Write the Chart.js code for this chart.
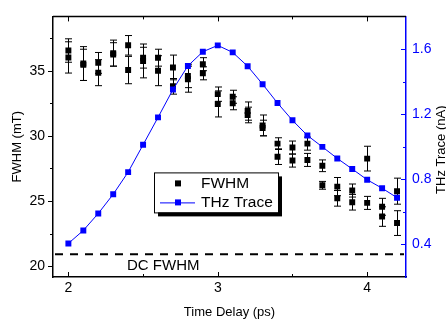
<!DOCTYPE html>
<html>
<head>
<meta charset="utf-8">
<script src="https://cdn.jsdelivr.net/npm/chart.js@4.4.1/dist/chart.umd.min.js"></script>
<style>
  body { margin: 0; background: #fff; }
</style>
</head>
<body>
<canvas id="chart" width="446" height="320"></canvas>
<script>
const times = [2.0, 2.1, 2.2, 2.3, 2.4, 2.5, 2.6, 2.7, 2.8, 2.9, 3.0, 3.1,
               3.2, 3.3, 3.4, 3.5, 3.6, 3.7, 3.8, 3.9, 4.0, 4.1, 4.2];

// two FWHM measurements per delay, with their error bars (mT)
const fwhmA = [36.55, 35.55, 35.6, 36.35, 36.95, 36.0, 36.0, 35.25, 34.6, 35.5, 33.2, 33.0,
               31.9, 30.8, 29.4, 29.1, 29.4, 27.7, 26.1, 25.8, 28.25, 24.55, 25.75];
const errA  = [0.9, 1.3, 0.8, 1.0, 0.75, 0.8, 0.65, 0.95, 0.9, 0.5, 0.55, 0.5,
               0.7, 0.8, 0.45, 0.5, 0.5, 0.45, 0.7, 0.5, 0.95, 0.65, 1.0];
const fwhmB = [36.02, 35.45, 34.85, 36.25, 35.05, 35.75, 35.0, 33.8, 34.35, 34.8, 32.45, 32.5,
               31.6, 30.6, 28.4, 28.1, 28.15, 26.2, 25.2, 24.9, 24.85, 23.8, 23.3];
const errB  = [1.2, 1.2, 1.0, 0.9, 1.05, 1.3, 1.15, 0.6, 1.0, 0.5, 1.0, 0.5,
               0.6, 0.6, 0.6, 0.5, 0.5, 0.3, 0.6, 0.6, 0.5, 0.75, 0.95];

// THz trace (nA)
const thzTrace = [0.406, 0.486, 0.590, 0.708, 0.844, 1.012, 1.180, 1.351, 1.496, 1.583, 1.622, 1.579,
                  1.494, 1.384, 1.268, 1.162, 1.069, 0.999, 0.928, 0.863, 0.797, 0.745, 0.687];

const dcFwhm = 20.9;

const xTicks = [2, 3, 4];
const xMinor = [2.5, 3.5];
const yTicks = [20, 25, 30, 35];
const yMinor = [22.5, 27.5, 32.5, 37.5];
const y1Ticks = [0.4, 0.8, 1.2, 1.6];
const y1Minor = [0.6, 1.0, 1.4];

const FONT = "'Liberation Sans', Arial, sans-serif";
const BLUE = '#0000ff';

function pts(ys) {
    return times.map((t, i) => ({ x: t, y: ys[i] }));
}

// error bars under the squares
const errorBars = {
    id: 'errorBars',
    beforeDatasetsDraw(chart) {
        const ctx = chart.ctx;
        const xs = chart.scales.x;
        chart.data.datasets.forEach(ds => {
            if (!ds.errors) return;
            const ys = chart.scales[ds.yAxisID];
            ctx.save();
            ctx.strokeStyle = '#000';
            ctx.lineWidth = 1;
            ds.data.forEach((p, j) => {
                const px = Math.round(xs.getPixelForValue(p.x)) + 0.5;
                const top = ys.getPixelForValue(p.y + ds.errors[j]);
                const bot = ys.getPixelForValue(p.y - ds.errors[j]);
                ctx.beginPath();
                ctx.moveTo(px, top); ctx.lineTo(px, bot);
                ctx.moveTo(px - 3.5, top); ctx.lineTo(px + 3.5, top);
                ctx.moveTo(px - 3.5, bot); ctx.lineTo(px + 3.5, bot);
                ctx.stroke();
            });
            ctx.restore();
        });
    }
};

// dashed DC level and its label
const dcLine = {
    id: 'dcLine',
    beforeDatasetsDraw(chart) {
        const ctx = chart.ctx;
        const a = chart.chartArea;
        const y = chart.scales.y.getPixelForValue(dcFwhm);
        ctx.save();
        ctx.strokeStyle = '#000';
        ctx.lineWidth = 2;
        ctx.setLineDash([8, 7]);
        ctx.beginPath();
        ctx.moveTo(a.left + 2, y);
        ctx.lineTo(a.right - 2, y);
        ctx.stroke();
        ctx.setLineDash([]);
        ctx.fillStyle = '#000';
        ctx.font = '15px ' + FONT;
        ctx.textAlign = 'center';
        ctx.textBaseline = 'middle';
        ctx.fillText('DC FWHM', chart.scales.x.getPixelForValue(2.635), chart.scales.y.getPixelForValue(20.05));
        ctx.restore();
    }
};

// frame: top line, all tick marks, right-hand title
const frame = {
    id: 'frame',
    afterDraw(chart) {
        const ctx = chart.ctx;
        const a = chart.chartArea;
        const xs = chart.scales.x, ys = chart.scales.y, y1 = chart.scales.y1;
        ctx.save();
        ctx.lineWidth = 1.5;
        ctx.strokeStyle = '#000';
        ctx.beginPath();
        ctx.moveTo(a.left, a.top); ctx.lineTo(a.right, a.top);
        ctx.stroke();

        ctx.lineWidth = 1;
        ctx.beginPath();
        const xt = (v, len) => {
            const px = Math.round(xs.getPixelForValue(v)) + 0.5;
            ctx.moveTo(px, a.bottom); ctx.lineTo(px, a.bottom - len);
            ctx.moveTo(px, a.top); ctx.lineTo(px, a.top + len);
        };
        xTicks.forEach(v => xt(v, 5));
        xMinor.forEach(v => xt(v, 3));
        const yt = (v, len) => {
            const py = Math.round(ys.getPixelForValue(v)) + 0.5;
            ctx.moveTo(a.left, py); ctx.lineTo(a.left - len, py);
        };
        yTicks.forEach(v => yt(v, 5));
        yMinor.forEach(v => yt(v, 3));
        ctx.stroke();

        ctx.strokeStyle = BLUE;
        ctx.beginPath();
        const rt = (v, len) => {
            const py = Math.round(y1.getPixelForValue(v)) + 0.5;
            ctx.moveTo(a.right, py); ctx.lineTo(a.right - len, py);
        };
        y1Ticks.forEach(v => rt(v, 5));
        y1Minor.forEach(v => rt(v, 3));
        ctx.stroke();

        // right title reads bottom to top
        ctx.translate(441, (a.top + a.bottom) / 2 + 3);
        ctx.rotate(-Math.PI / 2);
        ctx.fillStyle = '#000';
        ctx.font = '13px ' + FONT;
        ctx.textAlign = 'center';
        ctx.textBaseline = 'middle';
        ctx.fillText('THz Trace (nA)', 0, 0);
        ctx.restore();
    }
};

// boxed legend with shadow inside the plot
const boxLegend = {
    id: 'boxLegend',
    afterDraw(chart) {
        const ctx = chart.ctx;
        const a = chart.chartArea;
        const x0 = a.left + 101, y0 = a.top + 156, w = 124, h = 40;
        ctx.save();
        ctx.fillStyle = '#000';
        ctx.fillRect(x0 + 4, y0 + 4, w, h);
        ctx.fillStyle = '#fff';
        ctx.fillRect(x0, y0, w, h);
        ctx.strokeStyle = '#000';
        ctx.lineWidth = 1;
        ctx.strokeRect(x0 + 0.5, y0 + 0.5, w, h);

        const ds = chart.data.datasets;
        ctx.font = '15.5px ' + FONT;
        ctx.textBaseline = 'middle';
        ctx.textAlign = 'left';
        // FWHM
        ctx.fillStyle = '#000';
        ctx.fillRect(x0 + 21, y0 + 8, 6, 6);
        ctx.fillText(ds[0].label, x0 + 47, y0 + 11);
        // THz trace
        ctx.strokeStyle = BLUE;
        ctx.beginPath();
        ctx.moveTo(x0 + 6, y0 + 30.5); ctx.lineTo(x0 + 41, y0 + 30.5);
        ctx.stroke();
        ctx.fillStyle = BLUE;
        ctx.fillRect(x0 + 21, y0 + 27, 6, 6);
        ctx.fillStyle = '#000';
        ctx.fillText(ds[2].label, x0 + 47, y0 + 30);
        ctx.restore();
    }
};

new Chart(document.getElementById('chart'), {
    type: 'scatter',
    data: {
        datasets: [
            {
                label: 'FWHM',
                data: pts(fwhmA),
                errors: errA,
                yAxisID: 'y',
                pointStyle: 'rect',
                pointRadius: 4.2,
                backgroundColor: '#000',
                borderColor: '#000',
                borderWidth: 0,
                order: 1
            },
            {
                label: 'FWHM',
                data: pts(fwhmB),
                errors: errB,
                yAxisID: 'y',
                pointStyle: 'rect',
                pointRadius: 4.2,
                backgroundColor: '#000',
                borderColor: '#000',
                borderWidth: 0,
                order: 1
            },
            {
                label: 'THz Trace',
                data: pts(thzTrace),
                yAxisID: 'y1',
                showLine: true,
                borderColor: BLUE,
                borderWidth: 1,
                pointStyle: 'rect',
                pointRadius: 4.2,
                pointBackgroundColor: BLUE,
                pointBorderWidth: 0,
                order: 0
            }
        ]
    },
    options: {
        responsive: false,
        animation: false,
        layout: { padding: { top: 14, left: 0, right: 0, bottom: 0 } },
        plugins: {
            legend: { display: false },
            tooltip: { enabled: false }
        },
        scales: {
            x: {
                type: 'linear',
                min: 1.897,
                max: 4.26,
                afterBuildTicks: s => { s.ticks = xTicks.map(v => ({ value: v })); },
                afterFit: s => { s.height = 43; },
                grid: { display: false, drawTicks: false },
                border: { display: true, color: '#000', width: 1.5 },
                ticks: { color: '#000', font: { family: FONT, size: 14 }, padding: 3, maxRotation: 0 },
                title: { display: true, text: 'Time Delay (ps)', color: '#000',
                         font: { family: FONT, size: 13 }, padding: { top: 0, bottom: 0 } }
            },
            y: {
                position: 'left',
                min: 19.16,
                max: 39.17,
                afterBuildTicks: s => { s.ticks = yTicks.map(v => ({ value: v })); },
                afterFit: s => { s.width = 53; },
                grid: { display: false, drawTicks: false },
                border: { display: true, color: '#000', width: 1.5 },
                ticks: { color: '#000', font: { family: FONT, size: 14 }, padding: 8 },
                title: { display: true, text: 'FWHM (mT)', color: '#000',
                         font: { family: FONT, size: 13 }, padding: { top: 10, bottom: 0 } }
            },
            y1: {
                position: 'right',
                min: 0.2,
                max: 1.8,
                afterBuildTicks: s => { s.ticks = y1Ticks.map(v => ({ value: v })); },
                afterFit: s => { s.width = 40; },
                grid: { display: false, drawTicks: false },
                border: { display: true, color: BLUE, width: 1.5 },
                ticks: { color: BLUE, font: { family: FONT, size: 14 }, padding: 6,
                         callback: v => v.toFixed(1) }
            }
        }
    },
    plugins: [errorBars, dcLine, frame, boxLegend]
});
</script>
</body>
</html>
